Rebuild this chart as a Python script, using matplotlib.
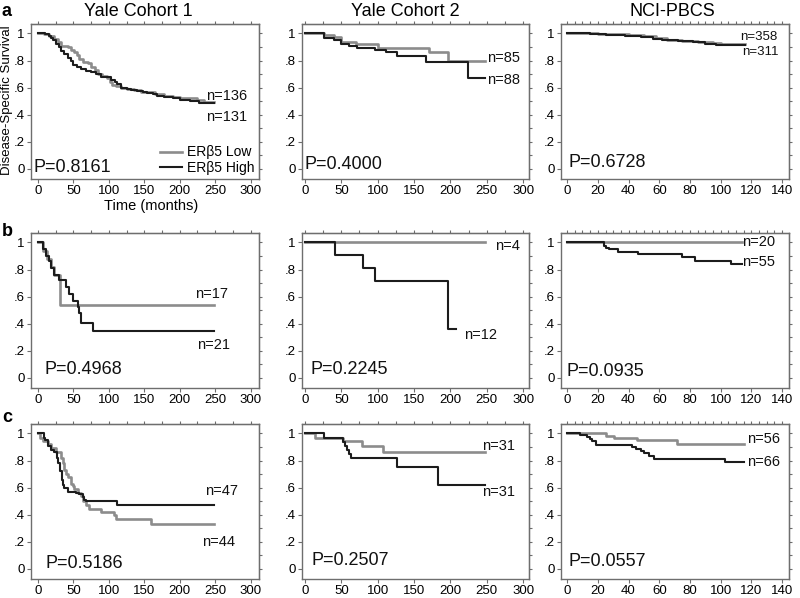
import matplotlib
matplotlib.use("Agg")
import matplotlib.pyplot as plt
from matplotlib.lines import Line2D

plt.rcParams['font.family'] = ['Liberation Sans', 'DejaVu Sans']

GREY = '#8c8c8c'
BLACK = '#1c1c1c'
FRAME = '#6e6e6e'

cohorts = ['Yale Cohort 1', 'Yale Cohort 2', 'NCI-PBCS']
row_letters = ['a', 'b', 'c']

# ---- survival curves (time in months, survival fraction) ----
# row a
a1_low_t = [0, 8, 15, 23, 28, 32, 38, 42, 47, 51, 55, 58, 63, 70, 75, 80, 84, 90, 98, 102, 105, 110, 117, 125, 135, 145, 155, 165, 178, 190, 200, 212, 225, 235, 248]
a1_low_s = [1, .995, .985, .96, .94, .91, .905, .90, .88, .86, .84, .81, .79, .78, .75, .73, .70, .685, .67, .64, .62, .61, .60, .59, .58, .57, .565, .55, .535, .53, .525, .52, .505, .495, .495]
a1_high_t = [0, 10, 15, 18, 21, 25, 29, 32, 37, 42, 46, 49, 55, 60, 68, 75, 82, 89, 96, 103, 108, 112, 117, 125, 131, 140, 148, 154, 162, 168, 178, 190, 201, 215, 227, 240, 248]
a1_high_s = [1, .995, .985, .97, .95, .92, .90, .87, .85, .82, .80, .77, .755, .74, .725, .715, .70, .68, .675, .655, .645, .63, .60, .59, .58, .575, .57, .56, .55, .535, .53, .52, .51, .50, .49, .485, .485]

a2_low_t = [0, 26, 40, 49, 70, 100, 170, 196, 247]
a2_low_s = [1, .99, .975, .94, .925, .895, .86, .80, .80]
a2_high_t = [0, 26, 40, 49, 61, 72, 96, 112, 126, 166, 224, 247]
a2_high_s = [1, .97, .95, .92, .91, .895, .875, .86, .83, .79, .67, .67]

a3_low_t = [0, 20, 30, 40, 50, 58, 65, 75, 85, 95, 100, 116]
a3_low_s = [1, .997, .993, .988, .98, .965, .955, .948, .94, .93, .925, .925]
a3_high_t = [0, 15, 25, 38, 48, 56, 62, 72, 82, 90, 97, 116]
a3_high_s = [1, .997, .992, .985, .975, .962, .95, .943, .935, .925, .918, .918]

# row b
b1_low_t = [0, 6.6, 13, 18, 23, 31, 248]
b1_low_s = [1, .94, .88, .82, .76, .535, .535]
b1_high_t = [0, 6.6, 11, 16, 18, 23, 30, 39, 44, 49, 56, 58, 60, 77, 248]
b1_high_s = [1, .95, .90, .86, .81, .76, .72, .67, .62, .57, .52, .48, .405, .345, .345]

b2_low_t = [0, 247]
b2_low_s = [1, 1]
b2_high_t = [0, 41, 80, 96, 196, 208]
b2_high_s = [1, .905, .81, .715, .358, .358]

b3_low_t = [0, 114]
b3_low_s = [1, 1]
b3_high_t = [0, 24, 25.5, 27.5, 33, 46, 75, 83, 106.5, 114]
b3_high_s = [1, .975, .962, .95, .927, .912, .89, .866, .84, .84]

# row c
c1_low_t = [0, 3.3, 6.6, 13.6, 18.3, 25.3, 32.4, 34.7, 37, 39.4, 41.7, 46.4, 48.8, 51, 55.8, 60.5, 62.8, 67.5, 72, 88.6, 107, 110, 159, 248]
c1_low_s = [1, .97, .945, .92, .89, .86, .82, .78, .73, .70, .68, .63, .61, .59, .56, .54, .50, .47, .445, .42, .40, .37, .33, .33]
c1_high_t = [0, 8.9, 9.8, 13.6, 18.3, 23, 26.7, 28.6, 31.4, 33.3, 34.7, 37, 41.7, 53.5, 58, 62.8, 65, 67.5, 112, 248]
c1_high_s = [1, .97, .95, .91, .88, .86, .82, .78, .72, .66, .62, .60, .57, .56, .55, .53, .51, .50, .47, .47]

c2_low_t = [0, 14, 53, 78, 108, 248]
c2_low_s = [1, .965, .945, .905, .86, .86]
c2_high_t = [0, 26, 52, 55, 58, 61, 64, 127, 183, 248]
c2_high_s = [1, .97, .94, .91, .88, .85, .82, .755, .62, .62]

c3_low_t = [0, 25, 30.4, 45.6, 71.7, 115]
c3_low_s = [1, .985, .965, .95, .925, .925]
c3_high_t = [0, 8.7, 13, 15.2, 16.3, 18.5, 42.4, 44.6, 47.8, 50, 53.3, 56.5, 103, 115]
c3_high_s = [1, .99, .975, .96, .945, .915, .90, .885, .87, .855, .835, .81, .79, .79]

low_t = [[a1_low_t, a2_low_t, a3_low_t], [b1_low_t, b2_low_t, b3_low_t], [c1_low_t, c2_low_t, c3_low_t]]
low_s = [[a1_low_s, a2_low_s, a3_low_s], [b1_low_s, b2_low_s, b3_low_s], [c1_low_s, c2_low_s, c3_low_s]]
high_t = [[a1_high_t, a2_high_t, a3_high_t], [b1_high_t, b2_high_t, b3_high_t], [c1_high_t, c2_high_t, c3_high_t]]
high_s = [[a1_high_s, a2_high_s, a3_high_s], [b1_high_s, b2_high_s, b3_high_s], [c1_high_s, c2_high_s, c3_high_s]]

# p values and n labels
p_values = [['P=0.8161', 'P=0.4000', 'P=0.6728'],
            ['P=0.4968', 'P=0.2245', 'P=0.0935'],
            ['P=0.5186', 'P=0.2507', 'P=0.0557']]
p_pos = [[(-7, 0.01), (-1, 0.03), (0.6, 0.044)],
         [(9, 0.06), (7, 0.06), (-0.6, 0.05)],
         [(11, 0.037), (9.4, 0.06), (1, 0.056)]]

n_labels = [[('n=136', 237, 0.54), ('n=131', 237, 0.38)],
            [('n=85', 250, 0.82), ('n=88', 250, 0.66)],
            [('n=358', 113, 0.975), ('n=311', 114, 0.866)],
            [('n=17', 222, 0.62), ('n=21', 225, 0.245)],
            [('n=4', 261, 0.975), ('n=12', 219, 0.317)],
            [('n=20', 114, 1.0), ('n=55', 114, 0.854)],
            [('n=47', 236, 0.577), ('n=44', 232, 0.197)],
            [('n=31', 244, 0.91), ('n=31', 244, 0.565)],
            [('n=56', 117, 0.956), ('n=66', 117, 0.79)]]

xlims = [(-10, 312), (-4, 308), (-4, 144.5)]
xmajor = [list(range(0, 301, 50)), list(range(0, 301, 50)), list(range(0, 141, 20))]
xtop = [list(range(0, 301, 25)), list(range(0, 301, 25)), list(range(0, 141, 5))]
yticks = [0, .2, .4, .6, .8, 1]
ytick_labels = ['0', '.2', '.4', '.6', '.8', '1']
yright = [i / 10 for i in range(11)]

W, H = 800, 598
col_px = [(31, 259), (302, 529), (561, 789)]
row_px = [(24, 179), (233, 388), (424, 579)]

fig = plt.figure(figsize=(W / 100, H / 100), dpi=100)

for r in range(3):
    for c in range(3):
        x0, x1 = col_px[c]
        y0, y1 = row_px[r]
        ax = fig.add_axes([x0 / W, 1 - y1 / H, (x1 - x0) / W, (y1 - y0) / H])
        ax.step(low_t[r][c], low_s[r][c], where='post', color=GREY, lw=1.9, zorder=2)
        ax.step(high_t[r][c], high_s[r][c], where='post', color=BLACK, lw=1.5, zorder=3)
        ax.set_xlim(*xlims[c])
        ax.set_ylim(-0.075, 1.07)
        ax.set_xticks(xmajor[c])
        ax.set_yticks(yticks)
        ax.set_yticklabels(ytick_labels)
        ax.tick_params(direction='out', length=3, width=0.8, color=FRAME,
                       labelsize=9.5, pad=1.5)
        for s in ax.spines.values():
            s.set_color(FRAME)
            s.set_linewidth(1.0)
        top = ax.secondary_xaxis('top')
        top.set_xticks(xtop[c])
        top.tick_params(direction='out', length=2.5, width=0.8, color=FRAME, labeltop=False)
        right = ax.secondary_yaxis('right')
        right.set_yticks(yright)
        right.tick_params(direction='out', length=2.5, width=0.8, color=FRAME, labelright=False)

        px, py = p_pos[r][c]
        ax.text(px, py, p_values[r][c], fontsize=13, ha='left', va='center', color='#111111')
        n_size = 9.5 if (r == 0 and c == 2) else 10.5
        for lab, lx, ly in n_labels[r * 3 + c]:
            ax.text(lx, ly, lab, fontsize=n_size, ha='left', va='center', color='#111111')

        if r == 0 and c == 0:
            handles = [Line2D([], [], color=GREY, lw=1.9),
                       Line2D([], [], color=BLACK, lw=1.5)]
            ax.legend(handles, ['ERβ5 Low', 'ERβ5 High'], loc='lower right',
                      frameon=False, fontsize=10, handlelength=1.6,
                      handletextpad=0.4, labelspacing=0.1, borderaxespad=0.1,
                      borderpad=0.2)

# column titles
title_x = [138, 405, 672]
for c in range(3):
    fig.text(title_x[c] / W, 1 - 12 / H, cohorts[c], fontsize=13,
             ha='center', va='center')

# row letters
letter_y = [12, 232, 418]
for r in range(3):
    fig.text(2 / W, 1 - letter_y[r] / H, row_letters[r], fontsize=13,
             fontweight='bold', ha='left', va='center')

fig.text(7 / W, 1 - 100 / H, 'Disease-Specific Survival', rotation=90,
         fontsize=9.5, ha='center', va='center')
fig.text(151 / W, 1 - 206 / H, 'Time (months)', fontsize=10.5, ha='center', va='center')

fig.savefig('out.png', dpi=100)
